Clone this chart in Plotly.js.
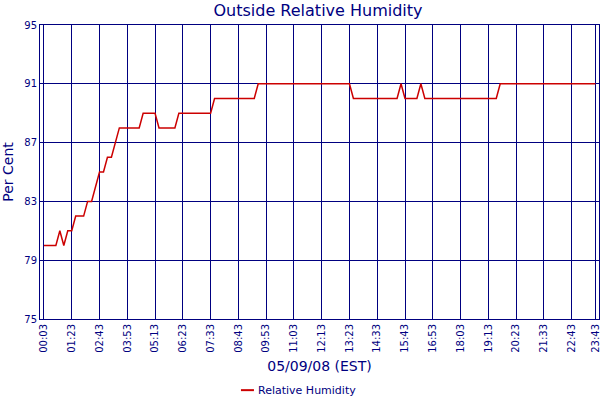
<!DOCTYPE html>
<html><head><meta charset="utf-8">
<script src="https://cdn.plot.ly/plotly-3.0.1.min.js"></script>
<style>html,body{margin:0;padding:0;background:#fff}#chart{width:600px;height:400px}</style>
</head><body><div id="chart"></div>
<script>
// Sample index (one reading per ~10 min) at each change point of the line
var sampleIndex = [0, 3, 4, 5, 6, 7, 8, 10, 11, 12, 14, 15, 16, 17, 19, 24, 25, 28, 29, 33, 34, 42, 43, 53, 54, 77, 78, 89, 90, 91, 94, 95, 96, 114, 115, 139];
var humidity    = [80, 80, 81, 80, 81, 81, 82, 82, 83, 83, 85, 85, 86, 86, 88, 88, 89, 89, 88, 88, 89, 89, 90, 90, 91, 91, 90, 90, 91, 90, 90, 91, 90, 90, 91, 91];
var tickIndex   = [0, 7, 14, 21, 28, 35, 42, 49, 56, 63, 70, 77, 84, 91, 98, 105, 112, 119, 126, 133, 139];
var tickLabels  = ["00:03","01:23","02:43","03:53","05:13","06:23","07:33","08:43","09:53","11:03","12:13","13:23","14:33","15:43","16:53","18:03","19:13","20:23","21:33","22:43","23:43"];
var yTicks = [75, 79, 83, 87, 91, 95];
var seriesName = 'Relative Humidity';

var navy = '#000080';
var red = '#cc0000';
var font = 'DejaVu Sans, Verdana, sans-serif';

Plotly.newPlot('chart', [{
  x: sampleIndex, y: humidity, type: 'scatter', mode: 'lines',
  name: seriesName, showlegend: false,
  line: {color: red, width: 1.5}
}], {
  width: 600, height: 400,
  margin: {l: 40, r: 1, t: 25, b: 81},
  paper_bgcolor: '#fff', plot_bgcolor: '#fff',
  font: {family: font, color: navy},
  title: {text: 'Outside Relative Humidity', font: {size: 16, color: navy, family: font},
          x: 0.53, xanchor: 'center', y: 0.975, yanchor: 'middle', yref: 'container'},
  xaxis: {
    automargin: false,
    range: [-1.0, 139.9], tickmode: 'array', tickvals: tickIndex, ticktext: tickLabels,
    tickangle: -90, tickfont: {size: 10, color: navy, family: font},
    ticklabeloverflow: 'allow',
    showgrid: true, gridcolor: navy, gridwidth: 1,
    showline: true, linecolor: navy, linewidth: 1, mirror: true,
    zeroline: false, ticks: '', ticklen: 0,
    title: {text: '05/09/08 (EST)', font: {size: 14, color: navy, family: font}}
  },
  yaxis: {
    automargin: false,
    range: [75, 95], tickmode: 'array', tickvals: yTicks,
    tickfont: {size: 10, color: navy, family: font},
    showgrid: true, gridcolor: navy, gridwidth: 1,
    showline: true, linecolor: navy, linewidth: 1, mirror: true,
    zeroline: false, ticks: '',
    title: {text: 'Per Cent', font: {size: 14, color: navy, family: font}}
  },
  showlegend: false,
  shapes: [{type: 'line', xref: 'paper', yref: 'paper', xsizemode: 'pixel', ysizemode: 'pixel',
            xanchor: 0.372, yanchor: -0.242, x0: -7, x1: 6, y0: 0, y1: 0,
            line: {color: red, width: 2}}],
  annotations: [{text: seriesName, xref: 'paper', yref: 'paper', x: 0.386, y: -0.242,
                 xanchor: 'left', yanchor: 'middle', showarrow: false,
                 font: {size: 11, color: navy, family: font}}]
}, {staticPlot: true, displayModeBar: false});
</script></body></html>
